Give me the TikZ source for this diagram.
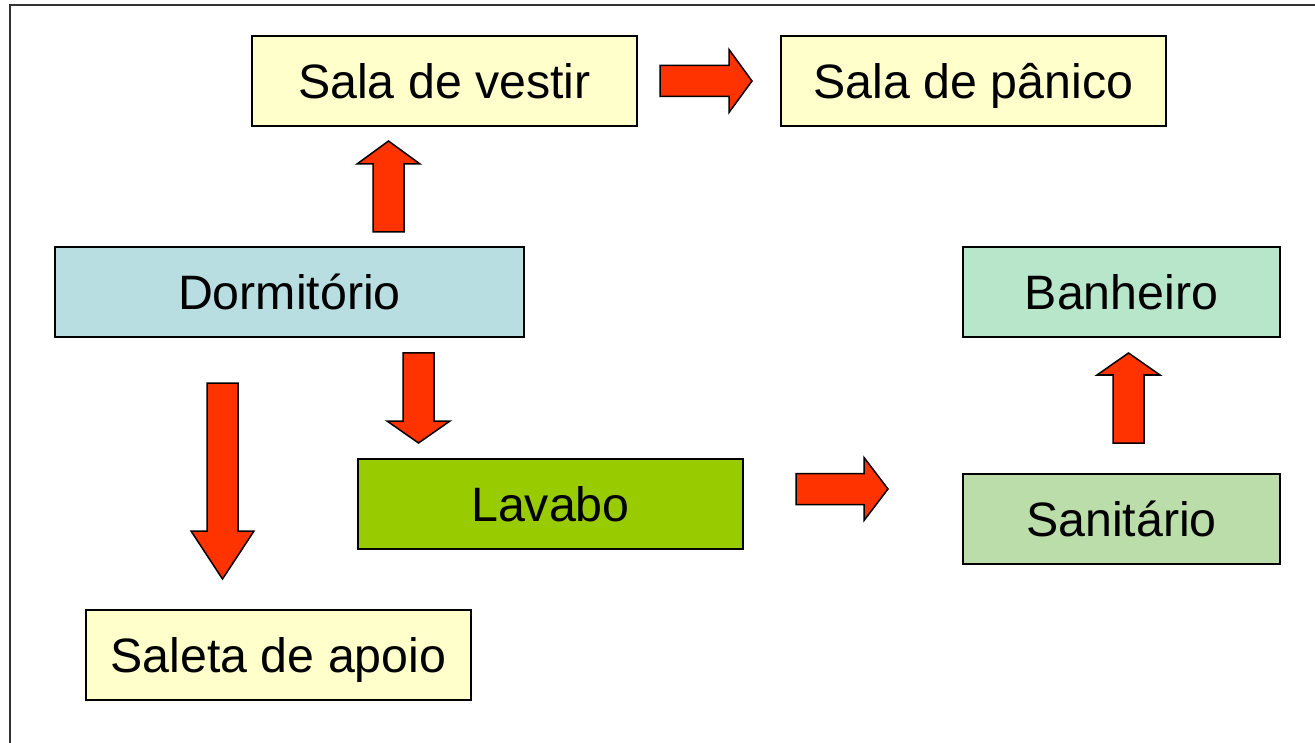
\documentclass[tikz,border=0pt]{standalone}
\usepackage{fontspec}
\setmainfont{Liberation Sans}

\definecolor{amarelo}{HTML}{FFFFCC}
\definecolor{azul}{HTML}{B8DEE2}
\definecolor{menta}{HTML}{B8E6CA}
\definecolor{verde}{HTML}{99CC00}
\definecolor{verdeclaro}{HTML}{BBDDAA}
\definecolor{vermelho}{HTML}{FF3300}

\tikzset{
    caixa/.style = { draw = black, line width = 2pt, minimum width = 385pt, minimum height = 90pt,
                     text height = 34.6pt, text depth = 0pt, inner sep = 0pt,
                     font = \fontsize{48.3}{58}\selectfont },
    setabloco/.style = { draw = black, line width = 1.5pt, fill = vermelho, line join = miter },
}

% seta em bloco: base, angulo, comprimento, cabeca
\newcommand{\seta}[4]{
    \begin{scope}[ shift = {#1}, rotate = #2 ]
        \draw [ setabloco ] ( 0, -15.5 ) -- ( #3-#4, -15.5 ) -- ( #3-#4, -31.5 ) -- ( #3, 0 )
            -- ( #3-#4, 31.5 ) -- ( #3-#4, 15.5 ) -- ( 0, 15.5 ) -- cycle;
    \end{scope}
}

\begin{document}
\begin{tikzpicture}[ x = 1pt, y = -1pt ]
        \useasboundingbox ( 0, 0 ) rectangle ( 1315, 743 );

        % moldura
        \draw [ line width = 2pt, draw = black!80 ] ( 10, 743 ) -- ( 10, 5 ) -- ( 1315, 5 );

        % ambientes
        \node [ caixa, fill = amarelo ] ( vestir ) at ( 444.5, 81 ) {Sala de vestir};
        \node [ caixa, fill = amarelo ] ( panico ) at ( 973.5, 81 ) {Sala de pânico};
        \node [ caixa, fill = azul, minimum width = 469pt ] ( dormitorio ) at ( 289.5, 292 ) {Dormitório};
        \node [ caixa, fill = menta, minimum width = 317pt ] ( banheiro ) at ( 1121.5, 292 ) {Banheiro};
        \node [ caixa, fill = verde ] ( lavabo ) at ( 550.5, 504 ) {Lavabo};
        \node [ caixa, fill = verdeclaro, minimum width = 317pt ] ( sanitario ) at ( 1121.5, 519 ) {Sanitário};
        \node [ caixa, fill = amarelo ] ( saleta ) at ( 278.5, 655 ) {Saleta de apoio};

        % setas
        \seta{( 388.5, 232 )}{90}{91}{23}
        \seta{( 660, 81 )}{0}{92}{23}
        \seta{( 418.5, 353 )}{-90}{90}{22}
        \seta{( 222.5, 383 )}{-90}{196}{48}
        \seta{( 796, 489 )}{0}{92}{24}
        \seta{( 1128.5, 443 )}{90}{90}{22}
\end{tikzpicture}
\end{document}
